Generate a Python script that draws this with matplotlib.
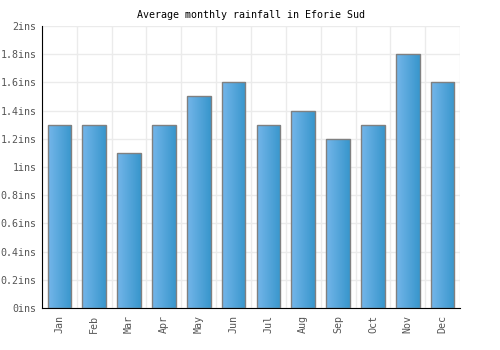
import matplotlib
matplotlib.use('Agg')
import matplotlib.pyplot as plt
import numpy as np
from matplotlib.colors import LinearSegmentedColormap

months = ['Jan', 'Feb', 'Mar', 'Apr', 'May', 'Jun', 'Jul', 'Aug', 'Sep', 'Oct', 'Nov', 'Dec']
rainfall = [1.3, 1.3, 1.1, 1.3, 1.5, 1.6, 1.3, 1.4, 1.2, 1.3, 1.8, 1.6]
yticks = [0, 0.2, 0.4, 0.6, 0.8, 1.0, 1.2, 1.4, 1.6, 1.8, 2.0]
ylabels = ['0ins', '0.2ins', '0.4ins', '0.6ins', '0.8ins', '1ins', '1.2ins', '1.4ins', '1.6ins', '1.8ins', '2ins']

plt.rcParams['font.family'] = 'DejaVu Sans Mono'

fig = plt.figure(figsize=(5, 3.5), dpi=100)
ax = fig.add_axes([0.084, 0.12, 0.836, 0.806])

x = np.arange(len(months))
width = 0.68
cmap = LinearSegmentedColormap.from_list('bar', ['#74b6ea', '#3896cc'])
grad = np.linspace(0, 1, 64).reshape(1, -1)

# bars with a left-to-right gradient
bars = ax.bar(x, rainfall, width, color='none', edgecolor='#808080', linewidth=1, zorder=3)
for b in bars:
    x0, y0 = b.get_x(), b.get_y()
    im = ax.imshow(grad, cmap=cmap, aspect='auto', zorder=2,
                   extent=[x0, x0 + b.get_width(), y0, y0 + b.get_height()])
    im.set_clip_path(b)

ax.set_xlim(-0.5, len(months) - 0.5)
ax.set_ylim(0, 2)
ax.set_yticks(yticks)
ax.set_yticklabels(ylabels)
ax.set_xticks(x)
ax.set_xticklabels(months, rotation=90)
ax.set_xticks(np.arange(-0.5, len(months), 1), minor=True)
ax.tick_params(axis='both', which='both', length=0, labelsize=7.2, colors='#555555', pad=5)
ax.tick_params(axis='y', pad=4)
ax.grid(True, which='minor', axis='x', color='#ebebeb', linewidth=1, zorder=0)
ax.grid(True, which='major', axis='y', color='#ebebeb', linewidth=1, zorder=0)

for s in ['top', 'right']:
    ax.spines[s].set_visible(False)
ax.spines['left'].set_color('black')
ax.spines['bottom'].set_color('black')

ax.set_title('Average monthly rainfall in Eforie Sud', fontsize=7.2, pad=6)

plt.savefig('out.png', dpi=100)
